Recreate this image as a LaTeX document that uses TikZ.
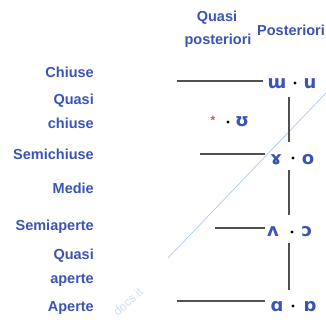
\documentclass[tikz,border=0pt]{standalone}
\usepackage{fontspec}
\setmainfont{Liberation Sans}
\newfontfamily\ipafont{DejaVu Sans}
\definecolor{lblue}{RGB}{58,84,180}
\definecolor{lgray}{RGB}{80,80,80}
\definecolor{wmark}{RGB}{170,200,240}
\definecolor{astred}{RGB}{215,80,70}
\begin{document}
\begin{tikzpicture}[x=1pt,y=-1pt,
  lab/.style={font=\bfseries\fontsize{14.5}{15}\selectfont, text=lblue, inner sep=0pt},
  rlab/.style={lab, anchor=east},
  ipa/.style={font=\ipafont\bfseries\fontsize{18}{18}\selectfont, text=lblue, inner sep=0pt},
  dotn/.style={circle, fill=black, inner sep=0pt, minimum size=3.4pt},
  hline/.style={draw=lgray, line width=1.7pt},
  vline/.style={draw=lgray, line width=1.7pt}]
\useasboundingbox (0,0) rectangle (326,320);
% watermark
\coordinate (w1) at (326,93);
\coordinate (w2) at (168,258);
\draw[wmark, line width=0.7pt] (w1) -- (w2);
\node[text=wmark!60, rotate=42, font=\fontsize{12}{12}\selectfont, inner sep=0pt] (wm) at (128,302) {docs.it};
% headers
\node[lab] (hq1) at (217,18) {Quasi};
\node[lab] (hq2) at (218,41) {posteriori};
\node[lab] (hp) at (291,30) {Posteriori};
% left labels
\node[rlab] (l1) at (94,72) {Chiuse};
\node[rlab] (l2a) at (94,101) {Quasi};
\node[rlab] (l2b) at (94,123) {chiuse};
\node[rlab] (l3) at (94,154) {Semichiuse};
\node[rlab] (l4) at (94,188) {Medie};
\node[rlab] (l5) at (94,227) {Semiaperte};
\node[rlab] (l6a) at (94,256) {Quasi};
\node[rlab] (l6b) at (94,280) {aperte};
\node[rlab] (l7) at (94,308) {Aperte};
% row 1
\node[ipa] (a1) at (277,84) {ɯ};
\node[dotn] (d1) at (295,83) {};
\node[ipa] (b1) at (310,84) {u};
% row 2
\node[text=astred, font=\fontsize{12}{12}\selectfont\bfseries, inner sep=0pt] (a2) at (213,120) {*};
\node[dotn] (d2) at (228,122) {};
\node[ipa] (b2) at (242,122) {ʊ};
% row 3
\node[ipa] (a3) at (276,160) {ɤ};
\node[dotn] (d3) at (293,158) {};
\node[ipa] (b3) at (308,160) {o};
% row 4
\node[ipa] (a4) at (273,232) {ʌ};
\node[dotn] (d4) at (292,232) {};
\node[ipa] (b4) at (307,232) {ɔ};
% row 5
\node[ipa] (a5) at (277,307) {ɑ};
\node[dotn] (d5) at (293,306) {};
\node[ipa] (b5) at (310,307) {ɒ};
% horizontal lines
\coordinate (h1) at (177,81);
\coordinate (h3) at (200,154);
\coordinate (h4) at (215,228);
\coordinate (h5) at (177,301);
\coordinate (e1) at (263,81);
\coordinate (e3) at (265,154);
\coordinate (e4) at (265,228);
\coordinate (e5) at (265,301);
\draw[hline] (h1) -- (e1);
\draw[hline] (h3) -- (e3);
\draw[hline] (h4) -- (e4);
\draw[hline] (h5) -- (e5);
% vertical lines
\coordinate (v1a) at (289,97);
\coordinate (v1b) at (289,142);
\coordinate (v2a) at (289,170);
\coordinate (v2b) at (289,215);
\coordinate (v3a) at (289,243);
\coordinate (v3b) at (289,290);
\draw[vline] (v1a) -- (v1b);
\draw[vline] (v2a) -- (v2b);
\draw[vline] (v3a) -- (v3b);
\end{tikzpicture}
\end{document}
